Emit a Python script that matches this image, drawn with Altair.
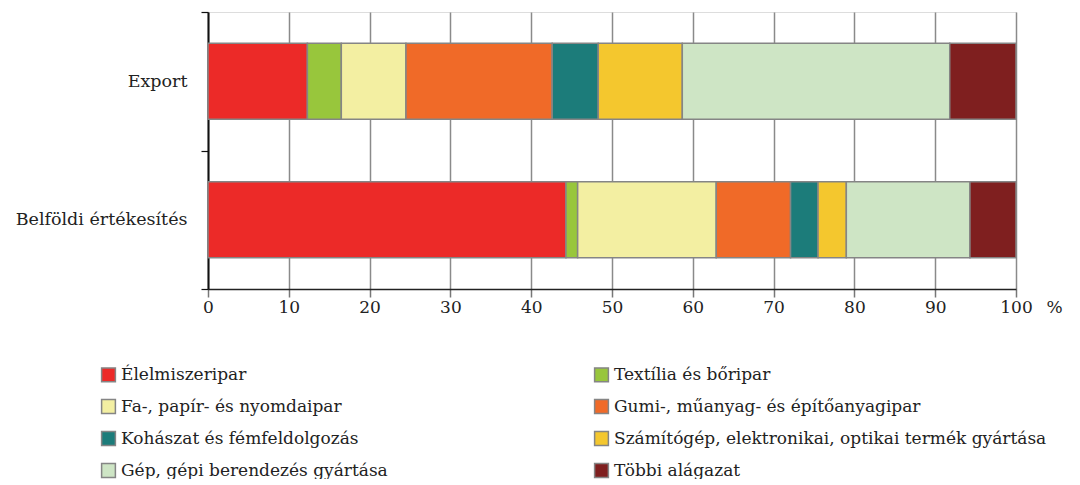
import altair as alt
import pandas as pd

categories = ["Export", "Belföldi értékesítés"]
sectors = [
    "Élelmiszeripar",
    "Textília és bőripar",
    "Fa-, papír- és nyomdaipar",
    "Gumi-, műanyag- és építőanyagipar",
    "Kohászat és fémfeldolgozás",
    "Számítógép, elektronikai, optikai termék gyártása",
    "Gép, gépi berendezés gyártása",
    "Többi alágazat",
]
export_values = [12.3, 4.2, 8.0, 18.1, 5.7, 10.4, 33.1, 8.2]
domestic_values = [44.3, 1.45, 17.15, 9.2, 3.4, 3.5, 15.3, 5.7]
colors = ["#EC2A28", "#98C63C", "#F3EFA2", "#F06A28", "#1C7C7A", "#F4C72E", "#CEE5C5", "#7F1F1F"]

# legend lays out column-major; reorder so that reading row by row follows the stack order
legend_order = sectors[0::2] + sectors[1::2]

rows = []
for i, s in enumerate(sectors):
    rows.append({"cat": categories[0], "sector": s, "value": export_values[i], "ord": i})
    rows.append({"cat": categories[1], "sector": s, "value": domestic_values[i], "ord": i})
df = pd.DataFrame(rows)

FONT = "DejaVu Serif"

chart = alt.Chart(df).mark_bar(stroke="#858585", strokeWidth=1.5, height={"band": 0.55}).encode(
    x=alt.X(
        "value:Q",
        stack="zero",
        scale=alt.Scale(domain=[0, 100], nice=False),
        axis=alt.Axis(
            values=list(range(0, 101, 10)),
            grid=True,
            gridColor="#8a8a8a",
            gridWidth=1.5,
            domainColor="#222",
            domainWidth=1.5,
            tickColor="#777",
            tickWidth=1.5,
            tickSize=8,
            labelFlush=False,
            labelFont=FONT,
            labelFontSize=17,
            labelColor="#222",
            labelPadding=2,
            title="%",
            titleFont=FONT,
            titleFontSize=17,
            titleFontWeight="normal",
            titleColor="#222",
            titleAngle=0,
            titleAlign="left",
            titleBaseline="top",
            titleX=838,
            titleY=10,
        ),
    ),
    y=alt.Y(
        "cat:N",
        sort=categories,
        scale=alt.Scale(paddingInner=0, paddingOuter=0),
        axis=alt.Axis(
            title=None,
            tickBand="extent",
            tickSize=7,
            tickColor="#111",
            tickWidth=1.2,
            domainColor="#111",
            domainWidth=2,
            labelFont=FONT,
            labelFontSize=17.5,
            labelColor="#222",
            labelPadding=14,
            grid=False,
        ),
    ),
    color=alt.Color(
        "sector:N",
        scale=alt.Scale(domain=sectors, range=colors),
        legend=alt.Legend(
            title=None,
            orient="none",
            legendX=-108,
            legendY=354,
            columns=2,
            columnPadding=203,
            rowPadding=11,
            values=legend_order,
            symbolType="square",
            symbolSize=190,
            symbolStrokeColor="#858585",
            symbolStrokeWidth=1.5,
            symbolOpacity=1,
            labelFont=FONT,
            labelFontSize=17,
            labelColor="#222",
            labelOffset=4,
            labelLimit=500,
        ),
    ),
    order=alt.Order("ord:Q"),
).properties(
    width=808,
    height=277,
    autosize=alt.AutoSizeParams(type="none"),
    padding={"left": 200, "top": 4, "right": 56, "bottom": 190},
).configure_view(
    stroke="#333",
    strokeWidth=1.5,
).configure(background="white", font=FONT)

chart.save("out.html", embed_options={"renderer": "svg", "actions": False})
